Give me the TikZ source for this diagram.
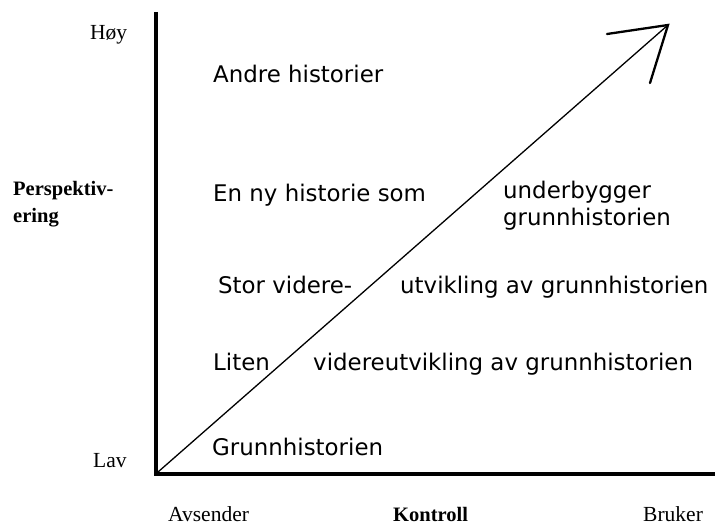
\documentclass[tikz,border=0pt]{standalone}
\usepackage{fontspec}
\setmainfont{Liberation Serif}
\newfontfamily\dvsans{DejaVu Sans}
\begin{document}
\begin{tikzpicture}[x=1pt,y=-1pt,
  sanslabel/.style={anchor=base west,inner sep=0pt,font=\dvsans\fontsize{22.9}{27}\selectfont},
  seriflabel/.style={anchor=base west,inner sep=0pt,font=\fontsize{21.5}{27}\selectfont},
  boldlabel/.style={anchor=base west,inner sep=0pt,font=\bfseries\fontsize{20.5}{27}\selectfont},
  axisline/.style={line width=4pt},
  diagline/.style={line width=1.3pt},
  headline/.style={line width=2.3pt,line cap=round}]
\useasboundingbox (0,0) rectangle (715,527);
% axes
\coordinate (ytop) at (156,12);
\coordinate (orig) at (156,474);
\coordinate (xend) at (715,474);
\draw[axisline] (ytop) -- (orig) -- (xend);
% diagonal arrow
\coordinate (start) at (158,472);
\coordinate (tip) at (668,25);
\coordinate (hl) at (607,34);
\coordinate (hr) at (650,83);
\draw[diagline] (start) -- (tip);
\draw[headline] (hl) -- (tip) -- (hr);
% axis labels
\node[seriflabel] (hoy) at (90,40) {Høy};
\node[seriflabel] (lav) at (93,467) {Lav};
\node[boldlabel] (persp1) at (13,195) {Perspektiv-};
\node[boldlabel] (persp2) at (13,222) {ering};
\node[seriflabel] (avs) at (168,521) {Avsender};
\node[boldlabel] (kontr) at (393,521) {Kontroll};
\node[seriflabel] (bruk) at (643,521) {Bruker};
% inner texts
\node[sanslabel] (t1) at (213,83) {Andre historier};
\node[sanslabel] (t2) at (213,201) {En ny historie som};
\node[sanslabel] (t3) at (503,198) {underbygger};
\node[sanslabel] (t4) at (503,225) {grunnhistorien};
\node[sanslabel] (t5) at (218,293) {Stor videre-};
\node[sanslabel] (t6) at (400,293) {utvikling av grunnhistorien};
\node[sanslabel] (t7) at (213,370) {Liten};
\node[sanslabel] (t8) at (313,370) {videreutvikling av grunnhistorien};
\node[sanslabel] (t9) at (212,455) {Grunnhistorien};
\end{tikzpicture}
\end{document}
